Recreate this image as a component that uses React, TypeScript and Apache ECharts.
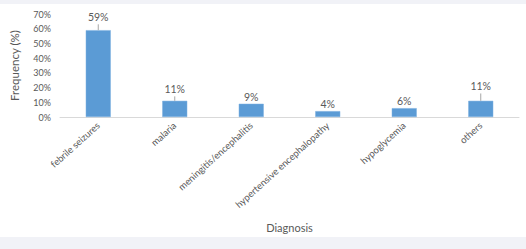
import React, { useEffect, useRef } from "react";
import * as echarts from "echarts";

const categories = [
  "febrile seizures",
  "malaria",
  "meningitis/encephalitis",
  "hypertensive encephalopathy",
  "hypoglycemia",
  "others",
];
const frequencies = [59, 11, 9, 4, 6, 11];
const errors = [4, 3, 0, 0, 0, 5];
const yTicks = [0, 10, 20, 30, 40, 50, 60, 70];

const FONT = "Lato, 'Noto Sans', sans-serif";
const TEXT = "#595959";

export default function App() {
  const ref = useRef<HTMLDivElement>(null);
  useEffect(() => {
    if (!ref.current) return;
    const chart = echarts.init(ref.current, undefined, { renderer: "svg" });
    chart.setOption({
      animation: false,
      backgroundColor: "#ffffff",
      textStyle: { fontFamily: FONT },
      graphic: [
        { type: "rect", shape: { x: 0, y: 0, width: 526, height: 4 }, style: { fill: "#f1f2f7" }, silent: true },
        { type: "rect", shape: { x: 0, y: 237, width: 526, height: 12 }, style: { fill: "#f1f2f7" }, silent: true },
      ],
      grid: { left: 48, right: 7, top: 14, bottom: 132, containLabel: false },
      xAxis: {
        type: "category",
        data: categories,
        name: "Diagnosis",
        nameLocation: "middle",
        nameGap: 105,
        nameTextStyle: { fontFamily: FONT, fontSize: 11, color: TEXT },
        axisLine: { lineStyle: { color: "#d9d9d9" } },
        axisTick: { show: false },
        axisLabel: {
          rotate: 42,
          interval: 0,
          fontFamily: FONT,
          fontSize: 9.5,
          color: TEXT,
          margin: 7,
        },
      },
      yAxis: {
        type: "value",
        min: yTicks[0],
        max: yTicks[yTicks.length - 1],
        interval: 10,
        name: "Frequency (%)",
        nameLocation: "middle",
        nameRotate: 90,
        nameGap: 40,
        nameTextStyle: { fontFamily: FONT, fontSize: 11.5, color: TEXT },
        axisLine: { show: false },
        axisTick: { show: false },
        splitLine: { show: false },
        axisLabel: {
          formatter: (v: number) => v + "%",
          fontFamily: FONT,
          fontSize: 9,
          color: TEXT,
          margin: 9,
        },
      },
      series: [
        {
          type: "bar",
          data: frequencies,
          barWidth: 25,
          itemStyle: { color: "#5b9bd5", borderColor: "#7fb1e0", borderWidth: 0.5 },
        },
        {
          type: "custom",
          data: frequencies.map((v, i) => [i, v, errors[i]]),
          renderItem: (params: any, api: any) => {
            const i = api.value(0);
            const v = api.value(1);
            const e = api.value(2);
            const p0 = api.coord([i, v]);
            const p1 = api.coord([i, v + e]);
            const children: any[] = [];
            if (e > 0) {
              children.push({
                type: "line",
                shape: { x1: p0[0], y1: p0[1], x2: p1[0], y2: p1[1] },
                style: { stroke: "#a6a6a6", lineWidth: 1 },
              });
            }
            children.push({
              type: "text",
              style: {
                text: v + "%",
                x: p1[0],
                y: p1[1] - 7,
                align: "center",
                verticalAlign: "middle",
                fontFamily: FONT,
                fontSize: 10.5,
                fill: TEXT,
              },
            });
            return { type: "group", children };
          },
          z: 3,
        },
      ],
    });
    return () => chart.dispose();
  }, []);
  return (
    <div
      ref={ref}
      style={{ position: "fixed", left: 0, top: 0, width: 526, height: 249 }}
    />
  );
}
